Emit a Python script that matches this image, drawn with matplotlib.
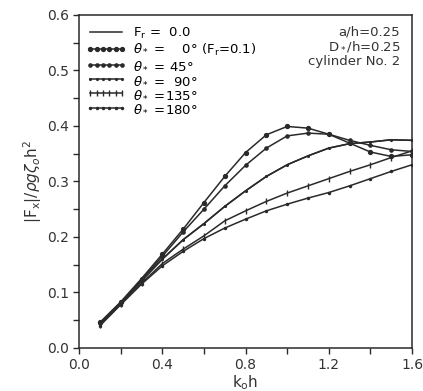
import numpy as np
import matplotlib
matplotlib.use('Agg')
import matplotlib.pyplot as plt
from matplotlib.ticker import MultipleLocator, FormatStrFormatter

# k0*h values (every 0.1)
koh = [0.1, 0.2, 0.3, 0.4, 0.5, 0.6, 0.7, 0.8, 0.9, 1.0, 1.1, 1.2, 1.3, 1.4, 1.5, 1.6]

# |Fx| / rho g zeta0 h^2
fr0 = [0.043, 0.081, 0.121, 0.160, 0.195, 0.224, 0.255, 0.283, 0.309, 0.330, 0.346, 0.360, 0.368, 0.371, 0.375, 0.374]
th0 = [0.046, 0.083, 0.125, 0.169, 0.214, 0.262, 0.309, 0.352, 0.384, 0.399, 0.396, 0.385, 0.369, 0.353, 0.345, 0.348]
th45 = [0.045, 0.082, 0.123, 0.165, 0.209, 0.250, 0.292, 0.329, 0.360, 0.382, 0.387, 0.385, 0.374, 0.365, 0.357, 0.354]
th90 = [0.043, 0.081, 0.121, 0.160, 0.195, 0.224, 0.255, 0.283, 0.309, 0.330, 0.346, 0.360, 0.368, 0.371, 0.375, 0.374]
th135 = [0.041, 0.079, 0.117, 0.152, 0.178, 0.202, 0.229, 0.247, 0.264, 0.279, 0.292, 0.305, 0.318, 0.330, 0.343, 0.355]
th180 = [0.040, 0.078, 0.115, 0.148, 0.174, 0.197, 0.216, 0.232, 0.247, 0.259, 0.270, 0.280, 0.292, 0.305, 0.318, 0.330]

labels = [r'$\mathrm{F_r}$ =  0.0',
          r'$\theta_*$ =    0° ($\mathrm{F_r}$=0.1)',
          r'$\theta_*$ = 45°',
          r'$\theta_*$ =  90°',
          r'$\theta_*$ =135°',
          r'$\theta_*$ =180°']

plt.rcParams['font.family'] = 'DejaVu Sans'
plt.rcParams['mathtext.fontset'] = 'dejavusans'

c = '#2a2a2a'
tc = '#333333'
fig = plt.figure(figsize=(4.23, 3.91), dpi=100)
ax = fig.add_axes([0.187, 0.110, 0.787, 0.852])

ax.plot(koh, fr0, '-', color=c, lw=1.1, label=labels[0])
ax.plot(koh, th0, '-', color=c, lw=1.1, marker='o', ms=2.8, label=labels[1])
ax.plot(koh, th45, '-', color=c, lw=1.1, marker='o', ms=2.3, label=labels[2])
ax.plot(koh, th90, '-', color=c, lw=1.1, marker='.', ms=2.5, label=labels[3])
ax.plot(koh, th135, '-', color=c, lw=1.1, marker='|', ms=4, mew=1.0, label=labels[4])
ax.plot(koh, th180, '-', color=c, lw=1.1, marker='.', ms=3, label=labels[5])

ax.set_xlim(0, 1.6)
ax.set_ylim(0, 0.6)
ax.xaxis.set_major_locator(MultipleLocator(0.4))
ax.xaxis.set_minor_locator(MultipleLocator(0.2))
ax.yaxis.set_major_locator(MultipleLocator(0.1))
ax.yaxis.set_minor_locator(MultipleLocator(0.05))
ax.xaxis.set_major_formatter(FormatStrFormatter('%.1f'))
ax.yaxis.set_major_formatter(FormatStrFormatter('%.1f'))
ax.tick_params(which='both', direction='out', length=4, width=1, colors=c,
               labelsize=10, labelcolor=tc)
for s in ax.spines.values():
    s.set_linewidth(1.1)
    s.set_color(c)

ax.set_xlabel(r'$\mathrm{k_oh}$', fontsize=11, labelpad=1, color=tc)
ax.set_ylabel(r'$|\mathrm{F_x}|/\rho g\zeta_o\mathrm{h}^2$', fontsize=11, labelpad=2,
              color=tc)

ax.legend(loc='upper left', frameon=False, numpoints=6, handlelength=3.0,
          handletextpad=0.5, labelspacing=0.1, fontsize=9.5,
          borderaxespad=0.15, bbox_to_anchor=(0.0, 0.99))

ax.text(0.965, 0.949, 'a/h=0.25', transform=ax.transAxes, ha='right', va='center',
        fontsize=9.5, color=tc)
ax.text(0.965, 0.904, r'D$_*$/h=0.25', transform=ax.transAxes, ha='right', va='center',
        fontsize=9.5, color=tc)
ax.text(0.965, 0.859, 'cylinder No. 2', transform=ax.transAxes, ha='right', va='center',
        fontsize=9.5, color=tc)

fig.savefig('out.png', dpi=100)
